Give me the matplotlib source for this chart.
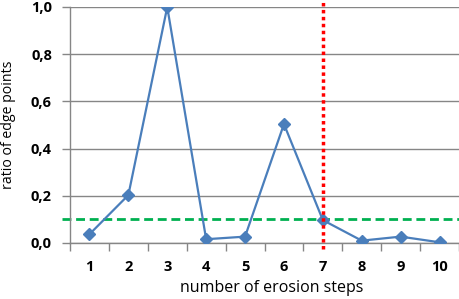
import numpy as np
import matplotlib
matplotlib.use('Agg')
import matplotlib.pyplot as plt
from matplotlib.ticker import FixedLocator

# values
steps = [1, 2, 3, 4, 5, 6, 7, 8, 9, 10]
ratio = [0.037, 0.203, 1.0, 0.016, 0.027, 0.504, 0.097, 0.010, 0.027, 0.003]
threshold = 0.1
chosen_step = 7
y_ticks = [0.0, 0.2, 0.4, 0.6, 0.8, 1.0]
y_tick_labels = ['0,0', '0,2', '0,4', '0,6', '0,8', '1,0']

plt.rcParams['font.family'] = ['Open Sans', 'DejaVu Sans']

fig = plt.figure(figsize=(4.6, 2.99), dpi=100)
ax = fig.add_axes([70 / 460, 1 - 243 / 299, 389 / 460, 236 / 299])

grid_col = '#868686'
ax.set_xlim(0.5, 10.5)
ax.set_ylim(0, 1)
ax.set_yticks(y_ticks)
ax.set_yticklabels(y_tick_labels, fontsize=10.5, fontweight='bold')
ax.set_xticks(steps)
ax.set_xticklabels([str(s) for s in steps], fontsize=10.5, fontweight='bold')
ax.xaxis.set_minor_locator(FixedLocator(np.arange(0.5, 11, 1)))
ax.tick_params(axis='x', which='major', length=0, pad=12.5)
ax.tick_params(axis='x', which='minor', length=6, color=grid_col, width=1)
ax.tick_params(axis='y', length=6, color=grid_col, width=1, pad=7)
ax.grid(axis='y', color=grid_col, linewidth=1)
ax.set_axisbelow(True)
for s in ['top', 'right']:
    ax.spines[s].set_visible(False)
for s in ['left', 'bottom']:
    ax.spines[s].set_color(grid_col)
    ax.spines[s].set_linewidth(1)

ax.axhline(threshold, xmin=-0.02, xmax=1.0, color='#00B050', linewidth=2,
           dashes=(3.2, 1.7), clip_on=False, zorder=2)
ax.plot(steps, ratio, color='#4A7EBB', linewidth=1.6, marker='D',
        markersize=6, zorder=3)
ax.axvline(chosen_step, ymin=-0.025, ymax=1.03, color='red', linewidth=2.5,
           linestyle=(0, (1, 1)), clip_on=False, zorder=4)

ax.set_xlabel('number of erosion steps', fontsize=11.5)
ax.set_ylabel('ratio of edge points', fontsize=10.2)
ax.xaxis.set_label_coords(0.519, -0.155)
ax.yaxis.set_label_coords(-0.14, 0.5)

fig.savefig('out.png', dpi=100)
